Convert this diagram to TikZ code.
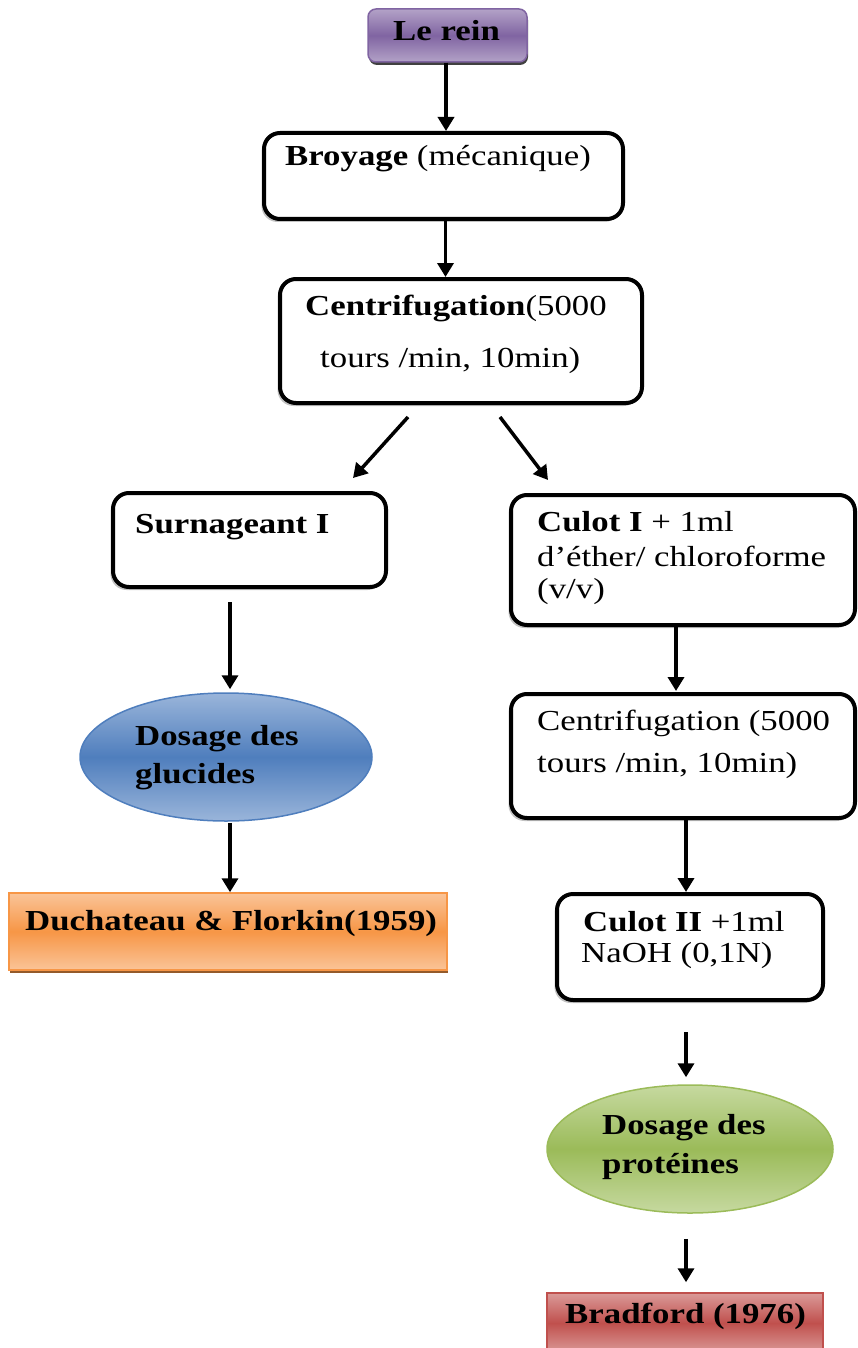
\documentclass[tikz,border=0pt]{standalone}
\usepackage{fontspec}
\setmainfont{Liberation Serif}[FakeStretch=1.2]
\usetikzlibrary{arrows.meta,shapes.geometric,shadows}
\definecolor{purpD}{HTML}{8064A2}
\definecolor{purpL}{HTML}{B3A2C7}
\definecolor{blueD}{HTML}{4F7EBD}
\definecolor{blueL}{HTML}{9AB5DA}
\definecolor{oranD}{HTML}{F79646}
\definecolor{oranL}{HTML}{FAC498}
\definecolor{greenD}{HTML}{9BBB59}
\definecolor{greenL}{HTML}{C6D9A0}
\definecolor{redD}{HTML}{C0504D}
\definecolor{redL}{HTML}{DA9A98}
\begin{document}
\begin{tikzpicture}[x=1pt,y=-1pt,
  roundbox/.style={draw=black, line width=4pt, rounded corners=16pt, fill=white, inner sep=0pt,
    drop shadow={shadow xshift=-2.5pt, shadow yshift=-3pt, fill=black!40, opacity=0.6}},
  colbox/.style={line width=1.5pt, inner sep=0pt},
  txt/.style={anchor=base west, inner sep=0pt, font=\fontsize{29}{34}\selectfont},
  arr/.style={line width=3.5pt, -{Triangle[length=14pt,width=16pt]}}
]
\useasboundingbox (0,0) rectangle (857,1348);

% boxes
\node[colbox, draw=purpD, rounded corners=8pt, top color=purpL, bottom color=purpL, middle color=purpD,
  drop shadow={shadow xshift=1pt, shadow yshift=-3pt, fill=black!75, opacity=1},
  minimum width=159pt, minimum height=53pt] (rein) at (447.5,35.5) {};
\node[roundbox, minimum width=359pt, minimum height=86pt] (broy) at (443.5,176) {};
\node[roundbox, minimum width=362pt, minimum height=124pt] (cen1) at (461,341) {};
\node[roundbox, minimum width=273pt, minimum height=94pt] (surn) at (249.5,540) {};
\node[roundbox, minimum width=344pt, minimum height=130pt] (cul1) at (683,560) {};
\node[ellipse, colbox, draw=blueD, top color=blueL, bottom color=blueL, middle color=blueD,
  minimum width=292pt, minimum height=128pt] (ell1) at (226,757) {};
\node[colbox, draw=oranD, top color=oranL, bottom color=oranL, middle color=oranD,
  drop shadow={shadow xshift=1pt, shadow yshift=-3pt, fill=oranD!60!black, opacity=1},
  minimum width=438pt, minimum height=77pt] (duch) at (228,931.5) {};
\node[roundbox, minimum width=344pt, minimum height=124pt] (cen2) at (683,756) {};
\node[roundbox, minimum width=266pt, minimum height=106pt] (cul2) at (690,947) {};
\node[ellipse, colbox, draw=greenD, top color=greenL, bottom color=greenL, middle color=greenD,
  minimum width=286pt, minimum height=128pt] (ell2) at (690,1149) {};
\node[colbox, draw=redD, top color=redL, bottom color=redL, middle color=redD,
  minimum width=276pt, minimum height=60pt] (brad) at (685,1323) {};

% texts
\node[txt] (t1) at (393,41) {\textbf{Le rein}};
\node[txt] (t2) at (285,166) {\textbf{Broyage} (mécanique)};
\node[txt] (t3) at (305,315) {\textbf{Centrifugation}(5000};
\node[txt] (t4) at (320,367) {tours /min, 10min)};
\node[txt] (t5) at (135,533) {\textbf{Surnageant I}};
\node[txt] (t6) at (537,531) {\textbf{Culot I} + 1ml};
\node[txt] (t7) at (537,566) {d’éther/ chloroforme};
\node[txt] (t8) at (537,598) {(v/v)};
\node[txt] (t9) at (135,745) {\textbf{Dosage des}};
\node[txt] (t10) at (135,783) {\textbf{glucides}};
\node[txt] (t11) at (25,930) {\textbf{Duchateau \& Florkin(1959)}};
\node[txt] (t12) at (537,730) {Centrifugation (5000};
\node[txt] (t13) at (537,772) {tours /min, 10min)};
\node[txt] (t14) at (583,931) {\textbf{Culot II} +1ml};
\node[txt] (t15) at (581,962) {NaOH (0,1N)};
\node[txt] (t16) at (602,1134) {\textbf{Dosage des}};
\node[txt] (t17) at (602,1173) {\textbf{protéines}};
\node[txt] (t18) at (565,1323) {\textbf{Bradford (1976)}};

% arrows
\draw[arr] ([xshift=-1.5pt]rein.south) -- ([xshift=2.5pt]broy.north);
\draw[arr] ([xshift=2pt]broy.south) -- ([xshift=-15.5pt]cen1.north);
\draw[arr] ([shift={(-53,12)}]cen1.south) -- ([shift={(103.5,-13)}]surn.north);
\draw[arr] ([shift={(39,12)}]cen1.south) -- ([shift={(-135,-13)}]cul1.north);
\draw[arr] ([shift={(-19.5,13)}]surn.south) -- ([shift={(4,-3)}]ell1.north);
\draw[arr] ([shift={(4,1)}]ell1.south) -- ([shift={(2,0)}]duch.north);
\draw[arr] ([xshift=-7pt]cul1.south) -- ([shift={(-7,-1)}]cen2.north);
\draw[arr] ([xshift=3pt]cen2.south) -- ([xshift=-4pt]cul2.north);
\draw[arr] ([shift={(-4,30)}]cul2.south) -- ([shift={(-4,-7)}]ell2.north);
\draw[arr] ([shift={(-4,25)}]ell2.south) -- ([shift={(1,-10)}]brad.north);
\end{tikzpicture}
\end{document}
